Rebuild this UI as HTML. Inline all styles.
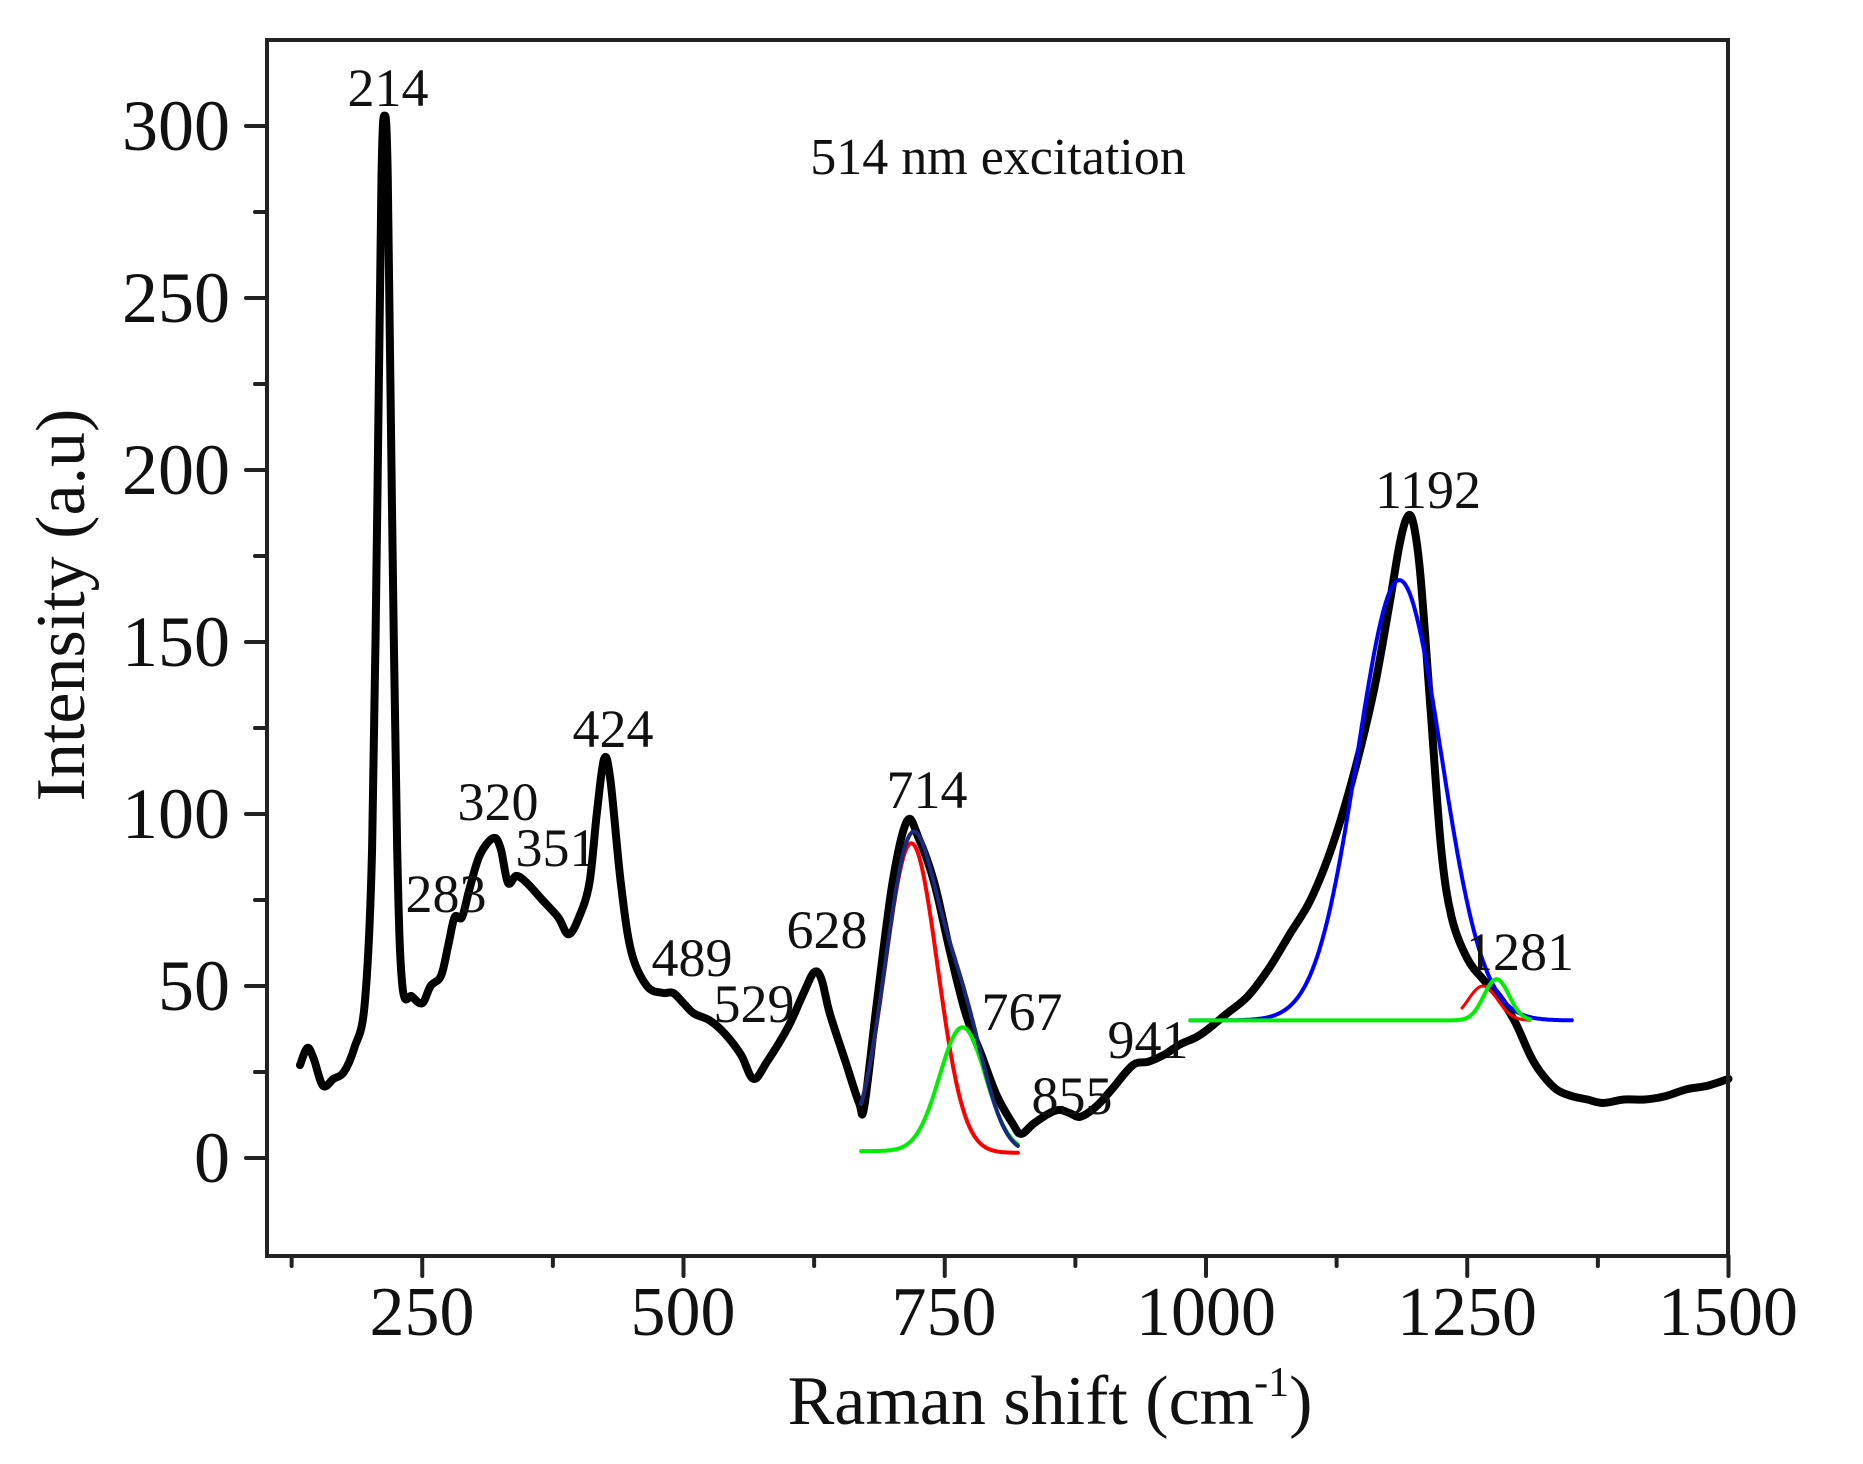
<!DOCTYPE html>
<html><head><meta charset="utf-8"><style>
html,body{margin:0;padding:0;background:#fff;}
svg{display:block;font-family:"Liberation Serif",serif;}
</style></head><body>
<svg id="s" width="1863" height="1464" viewBox="0 0 1863 1464" xmlns="http://www.w3.org/2000/svg">
<rect width="1863" height="1464" fill="#fff"/>
<g id="g"></g>
<rect x="267" y="40" width="1461" height="1216" fill="none" stroke="#222" stroke-width="4"/>
<g font-size="72" fill="#111" text-anchor="end">
<text x="230" y="1182">0</text>
<text x="230" y="1010">50</text>
<text x="230" y="838">100</text>
<text x="230" y="666">150</text>
<text x="230" y="494">200</text>
<text x="230" y="322">250</text>
<text x="230" y="150">300</text>
</g>
<g font-size="70" fill="#111" text-anchor="middle">
<text x="422" y="1335">250</text>
<text x="683" y="1335">500</text>
<text x="944" y="1335">750</text>
<text x="1206" y="1335">1000</text>
<text x="1467" y="1335">1250</text>
<text x="1728" y="1335">1500</text>
</g>
<text x="1050" y="1424" font-size="70" text-anchor="middle" fill="#111">Raman shift (cm<tspan dy="-28" font-size="42">-1</tspan><tspan dy="28">)</tspan></text>
<text transform="translate(84,605) rotate(-90)" font-size="70" text-anchor="middle" fill="#111">Intensity (a.u)</text>
<text x="998" y="174" font-size="52" text-anchor="middle" fill="#111">514 nm excitation</text>
<g font-size="54" fill="#111" text-anchor="middle">
<text x="388" y="106">214</text>
<text x="446" y="912">283</text>
<text x="498" y="820">320</text>
<text x="556" y="866">351</text>
<text x="613" y="747">424</text>
<text x="692" y="976">489</text>
<text x="754" y="1022">529</text>
<text x="827" y="948">628</text>
<text x="927" y="808">714</text>
<text x="1022" y="1030">767</text>
<text x="1072" y="1114">855</text>
<text x="1148" y="1058">941</text>
<text x="1428" y="508">1192</text>
<text x="1520" y="970">1281</text>
</g>
</svg>
<script>
var X=function(v){return 161+1.045*v;}, Y=function(v){return 1158-3.44*v;};
var g=document.getElementById('g'),NS="http://www.w3.org/2000/svg";
function add(d,c,w){var p=document.createElementNS(NS,'path');p.setAttribute('d',d);p.setAttribute('fill','none');p.setAttribute('stroke',c);p.setAttribute('stroke-width',w);p.setAttribute('stroke-linejoin','round');p.setAttribute('stroke-linecap','round');g.appendChild(p);}
function line(x1,y1,x2,y2){add('M'+x1+' '+y1+'L'+x2+' '+y2,'#222',4);}
for(var v=0;v<=300;v+=25){var y=Y(v);line(267,y,v%50?255:246,y);}
for(var v=125;v<=1500;v+=125){var x=X(v);line(x,1256,x,v%250?1266:1276);}
var d=[133,27,140,32,146,29,155,21,165,23,175,25,185,32,195,45,202,90,207,190,211,285,214,303,217,285,221,190,226,90,231,50,240,47,250,45,258,50,268,53,275,62,281,70,288,70,295,78,305,88,318,93,325,90,332,80,340,82,350,80,365,75,380,70,390,65,400,70,410,80,417,100,424,116,430,110,440,80,450,60,465,50,480,48,490,48,500,45,510,42,525,40,540,36,555,30,567,23,580,28,600,38,615,48,625,54,632,52,640,42,655,28,668,16,673,15,685,45,700,80,714,98,725,93,740,80,755,60,770,42,785,30,800,18,815,10,823,7,835,10,850,13,860,14,870,13,880,12,895,15,910,20,930,27,945,28,960,30,975,33,990,35,1000,37,1020,42,1040,47,1060,55,1080,65,1100,75,1120,90,1140,110,1160,135,1175,160,1185,178,1192,186,1198,185,1205,170,1215,130,1225,90,1235,70,1250,58,1265,52,1280,47,1295,40,1310,30,1320,25,1335,20,1350,18,1365,17,1380,16,1400,17,1420,17,1440,18,1460,20,1480,21,1500,23];
var pts=[];for(var i=0;i<d.length;i+=2)pts.push([X(d[i]),Y(d[i+1])]);
var s='M'+pts[0][0]+' '+pts[0][1];
for(var i=0;i<pts.length-1;i++){var p0=pts[Math.max(0,i-1)],p1=pts[i],p2=pts[i+1],p3=pts[Math.min(pts.length-1,i+2)];
s+='C'+(p1[0]+(p2[0]-p0[0])/6)+' '+(p1[1]+(p2[1]-p0[1])/6)+' '+(p2[0]-(p3[0]-p1[0])/6)+' '+(p2[1]-(p3[1]-p1[1])/6)+' '+p2[0]+' '+p2[1];}
add(s,'#000',8);
function gs(a,b,f,c,w){var q='';for(var v=a;v<=b;v+=1){q+=(v==a?'M':'L')+X(v).toFixed(1)+' '+Y(f(v)).toFixed(1);}add(q,c,w);}
function G(v,c,s){return Math.exp(-(v-c)*(v-c)/(2*s*s));}
gs(670,820,function(v){return 1.5+90*G(v,718,25);},'#f00',4);
gs(670,820,function(v){return 2+36*G(v,767,22);},'#0e0',4);
gs(670,820,function(v){return 1.5+90*G(v,718,25)+36*G(v,767,22);},'#1a2a7a',4);
gs(985,1350,function(v){return 40+128*G(v,1185,40);},'#00f',4);
gs(1245,1310,function(v){return 40+10*G(v,1265,14);},'#f00',3);
gs(985,1310,function(v){return 40+12*G(v,1278,12);},'#0e0',4);
</script>
</body></html>
